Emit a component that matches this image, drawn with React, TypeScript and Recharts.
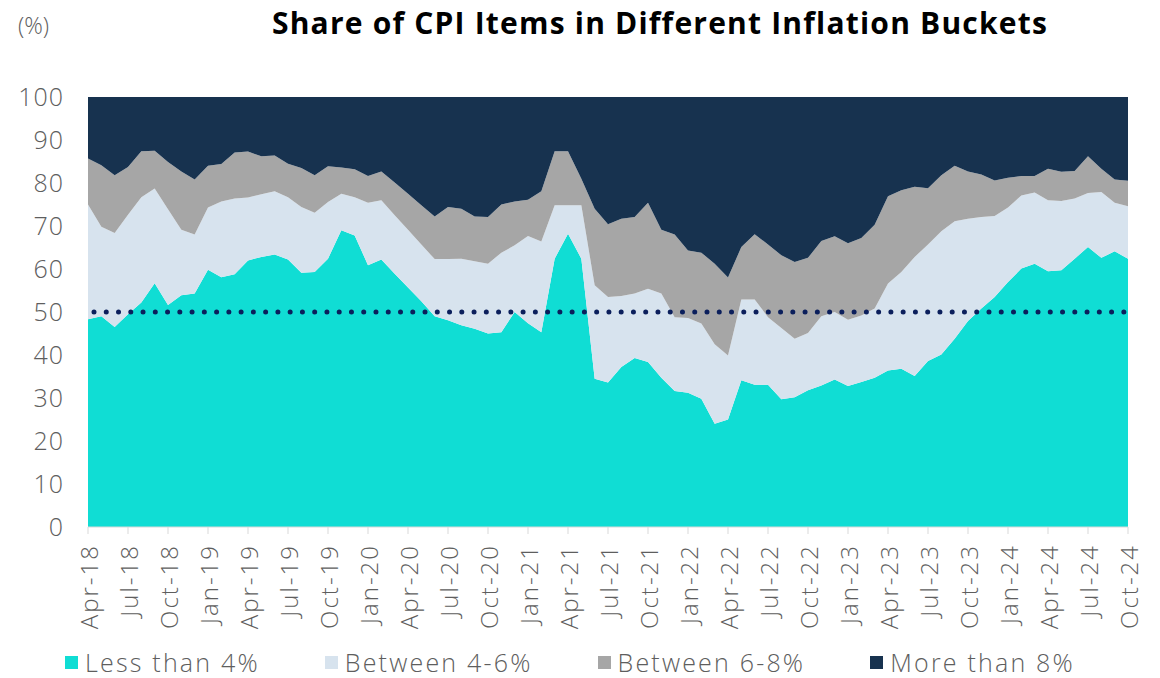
import { AreaChart, Area, XAxis, YAxis, ReferenceLine } from "recharts";

const months = [
  "Apr-18", "May-18", "Jun-18", "Jul-18", "Aug-18", "Sep-18", "Oct-18", "Nov-18", "Dec-18",
  "Jan-19", "Feb-19", "Mar-19", "Apr-19", "May-19", "Jun-19", "Jul-19", "Aug-19", "Sep-19", "Oct-19", "Nov-19", "Dec-19",
  "Jan-20", "Feb-20", "Mar-20", "Apr-20", "May-20", "Jun-20", "Jul-20", "Aug-20", "Sep-20", "Oct-20", "Nov-20", "Dec-20",
  "Jan-21", "Feb-21", "Mar-21", "Apr-21", "May-21", "Jun-21", "Jul-21", "Aug-21", "Sep-21", "Oct-21", "Nov-21", "Dec-21",
  "Jan-22", "Feb-22", "Mar-22", "Apr-22", "May-22", "Jun-22", "Jul-22", "Aug-22", "Sep-22", "Oct-22", "Nov-22", "Dec-22",
  "Jan-23", "Feb-23", "Mar-23", "Apr-23", "May-23", "Jun-23", "Jul-23", "Aug-23", "Sep-23", "Oct-23", "Nov-23", "Dec-23",
  "Jan-24", "Feb-24", "Mar-24", "Apr-24", "May-24", "Jun-24", "Jul-24", "Aug-24", "Sep-24", "Oct-24",
];

// share of items in each bucket (%)
const lessThan4 = [
  48.3, 49.0, 46.5, 49.5, 52.2, 56.7, 51.6, 53.9, 54.3,
  59.8, 58.1, 58.8, 62.0, 62.8, 63.4, 62.2, 59.1, 59.3, 62.4, 69.0, 67.8,
  60.9, 62.2, 58.9, 55.7, 52.5, 49.0, 48.1, 46.9, 46.1, 45.0, 45.3, 50.0,
  47.4, 45.3, 62.4, 68.2, 62.4, 34.5, 33.6, 37.2, 39.3, 38.4, 34.7, 31.6,
  31.2, 29.8, 24.0, 25.0, 34.1, 33.1, 33.1, 29.7, 30.2, 31.8, 32.9, 34.3,
  32.8, 33.7, 34.7, 36.4, 36.8, 35.1, 38.6, 40.1, 43.8, 47.9, 50.8, 53.5,
  57.0, 60.1, 61.2, 59.5, 59.7, 62.4, 65.1, 62.6, 64.1, 62.4,
];
const between4to6 = [
  26.7, 20.8, 21.9, 23.1, 24.5, 22.0, 22.3, 15.2, 13.7,
  14.5, 17.6, 17.6, 14.6, 14.6, 14.7, 14.5, 15.3, 13.8, 13.2, 8.5, 8.9,
  14.5, 13.8, 13.6, 13.4, 13.2, 13.3, 14.2, 15.5, 15.7, 16.2, 18.5, 15.5,
  20.3, 21.1, 12.4, 6.6, 12.4, 21.7, 19.9, 16.5, 15.0, 17.0, 19.6, 17.2,
  17.4, 17.5, 18.5, 14.9, 18.8, 19.8, 15.7, 16.6, 13.6, 13.3, 16.1, 15.7,
  15.4, 15.5, 16.1, 20.2, 22.5, 27.7, 27.1, 28.7, 27.3, 23.8, 21.3, 18.8,
  17.3, 17.0, 16.6, 16.5, 16.1, 14.0, 12.6, 15.3, 11.3, 12.2,
];
const between6to8 = [
  10.7, 14.3, 13.4, 11.1, 10.7, 8.8, 11.0, 13.6, 12.8,
  9.7, 8.7, 10.7, 10.7, 8.8, 8.3, 7.8, 9.1, 8.7, 8.3, 6.1, 6.5,
  6.2, 6.7, 7.6, 8.4, 9.1, 9.9, 12.1, 11.6, 10.4, 10.9, 11.2, 10.2,
  8.4, 11.7, 12.6, 12.6, 6.2, 17.8, 16.9, 18.0, 17.8, 20.0, 14.8, 19.2,
  15.7, 16.5, 18.7, 18.1, 12.2, 15.2, 16.9, 16.9, 17.8, 17.5, 17.5, 17.6,
  17.8, 18.0, 19.5, 20.3, 19.0, 16.3, 13.1, 13.0, 12.9, 11.0, 9.9, 8.3,
  6.9, 4.5, 3.8, 7.3, 6.8, 6.4, 8.5, 5.4, 5.4, 5.9,
];
const moreThan8 = [
  14.3, 15.9, 18.2, 16.3, 12.6, 12.5, 15.1, 17.3, 19.2,
  16.0, 15.6, 12.9, 12.7, 13.8, 13.6, 15.5, 16.5, 18.2, 16.1, 16.4, 16.8,
  18.4, 17.3, 19.9, 22.5, 25.2, 27.8, 25.6, 26.0, 27.8, 27.9, 25.0, 24.3,
  23.9, 21.9, 12.6, 12.6, 19.0, 26.0, 29.6, 28.3, 27.9, 24.6, 30.9, 32.0,
  35.7, 36.2, 38.8, 42.0, 34.9, 31.9, 34.3, 36.8, 38.4, 37.4, 33.5, 32.4,
  34.0, 32.8, 29.7, 23.1, 21.7, 20.9, 21.2, 18.2, 16.0, 17.3, 18.0, 19.4,
  18.8, 18.4, 18.4, 16.7, 17.4, 17.2, 13.8, 16.7, 19.2, 19.5,
];

const yTicks = [0, 10, 20, 30, 40, 50, 60, 70, 80, 90, 100];
const threshold = 50;

const series = [
  { key: "less", name: "Less than 4%", color: "#10DDD4", values: lessThan4 },
  { key: "b46", name: "Between 4-6%", color: "#D7E3EE", values: between4to6 },
  { key: "b68", name: "Between 6-8%", color: "#A6A6A6", values: between6to8 },
  { key: "more", name: "More than 8%", color: "#17324F", values: moreThan8 },
];

const data = months.map((m, i) => {
  const row: Record<string, string | number> = { month: m };
  series.forEach((s) => {
    row[s.key] = s.values[i];
  });
  return row;
});

const FONT = "'Open Sans', 'DejaVu Sans', sans-serif";
const TEXT = "#5E5E5E";

// Rotated month label
const MonthTick = (props: any) => {
  const { x, y, payload } = props;
  return (
    <text
      x={x}
      y={y}
      transform={`rotate(-90 ${x} ${y})`}
      textAnchor="end"
      dominantBaseline="central"
      fill={TEXT}
      fontSize={24}
      fontWeight={300}
      fontFamily={FONT}
      letterSpacing={2}
    >
      {payload.value}
    </text>
  );
};

const App = () => {
  return (
    <div style={{ position: "absolute", left: 0, top: 0, width: 1160, height: 678, background: "#fff", overflow: "hidden" }}>
      {/* unit label */}
      <div
        style={{
          position: "absolute",
          left: 18,
          top: 12,
          fontFamily: FONT,
          fontSize: 23,
          fontWeight: 300,
          lineHeight: "26px",
          color: TEXT,
        }}
      >
        (%)
      </div>
      {/* title */}
      <div
        style={{
          position: "absolute",
          left: 160,
          width: 1000,
          top: 4,
          textAlign: "center",
          fontFamily: FONT,
          fontSize: 30,
          fontWeight: 700,
          letterSpacing: 1.2,
          lineHeight: "38px",
          color: "#000",
        }}
      >
        Share of CPI Items in Different Inflation Buckets
      </div>

      <AreaChart
        width={1160}
        height={678}
        data={data}
        margin={{ top: 97, right: 32, left: 0, bottom: 0 }}
      >
        <XAxis
          dataKey="month"
          interval={2}
          height={151}
          tick={<MonthTick />}
          tickSize={7}
          tickMargin={10}
          axisLine={{ stroke: "#D9D9D9" }}
          tickLine={{ stroke: "#D9D9D9" }}
        />
        <YAxis
          domain={[0, 100]}
          ticks={yTicks}
          width={88}
          axisLine={false}
          tickLine={false}
          tickSize={0}
          tickMargin={24}
          tick={{ fontSize: 25, fill: TEXT, fontFamily: FONT, fontWeight: 300, letterSpacing: 1 }}
        />
        {series.map((s) => (
          <Area
            key={s.key}
            type="linear"
            dataKey={s.key}
            name={s.name}
            stackId="share"
            stroke="none"
            fill={s.color}
            fillOpacity={1}
            isAnimationActive={false}
          />
        ))}
        {/* 50% threshold */}
        <ReferenceLine
          y={threshold}
          stroke="#0B1F5C"
          strokeWidth={5}
          strokeLinecap="round"
          strokeDasharray="0 12.26"
          strokeDashoffset={-6}
        />
      </AreaChart>

      {/* legend */}
      <div
        style={{
          position: "absolute",
          left: 65,
          top: 648,
          display: "flex",
          gap: 65,
          fontFamily: FONT,
          fontSize: 25,
          fontWeight: 300,
          lineHeight: "28px",
          letterSpacing: 2.2,
          color: TEXT,
          whiteSpace: "nowrap",
        }}
      >
        {series.map((s) => (
          <div key={s.key} style={{ display: "flex", alignItems: "center" }}>
            <span style={{ display: "inline-block", width: 13, height: 13, background: s.color, marginRight: 7 }} />
            <span>{s.name}</span>
          </div>
        ))}
      </div>
    </div>
  );
};

export default App;
